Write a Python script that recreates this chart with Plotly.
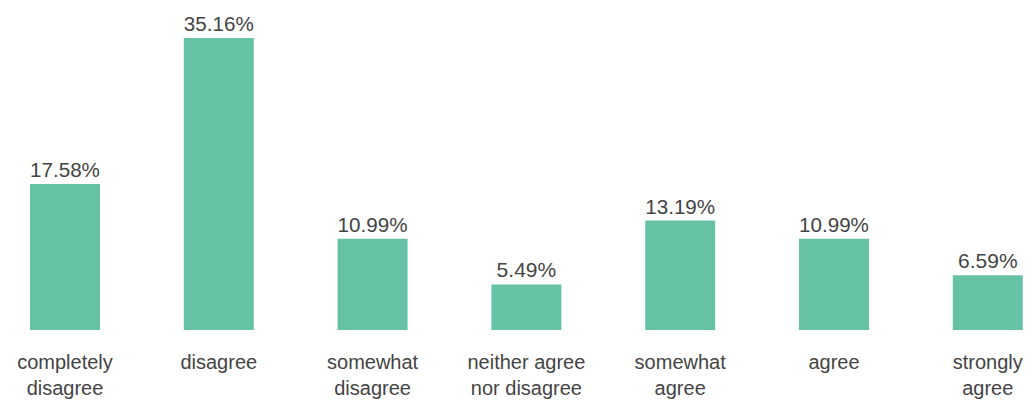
import plotly.graph_objects as go

categories = [
    "completely<br>disagree",
    "disagree",
    "somewhat<br>disagree",
    "neither agree<br>nor disagree",
    "somewhat<br>agree",
    "agree",
    "strongly<br>agree",
]
shares = [17.58, 35.16, 10.99, 5.49, 13.19, 10.99, 6.59]

positions = list(range(len(categories)))

fig = go.Figure(
    go.Bar(
        x=positions,
        y=shares,
        width=0.455,
        marker=dict(color="#66c2a5", line=dict(width=0)),
        texttemplate="%{y:.2f}%",
        textposition="outside",
        textfont=dict(family="Liberation Sans, Arial, sans-serif", size=21, color="#444"),
        cliponaxis=False,
    )
)

fig.update_layout(
    width=1035,
    height=401,
    margin=dict(l=0, r=0, t=0, b=71),
    paper_bgcolor="white",
    plot_bgcolor="white",
    showlegend=False,
    font=dict(family="Liberation Sans, Arial, sans-serif", size=20, color="#444"),
    xaxis=dict(
        range=[-0.4226, 6.307],
        tickmode="array",
        tickvals=positions,
        ticktext=categories,
        tickfont=dict(size=20),
        showgrid=False,
        zeroline=False,
        showline=False,
        ticks="",
        ticklabelstandoff=18,
    ),
    yaxis=dict(
        range=[0, 39.74],
        visible=False,
    ),
)

fig.write_html("out.html")
